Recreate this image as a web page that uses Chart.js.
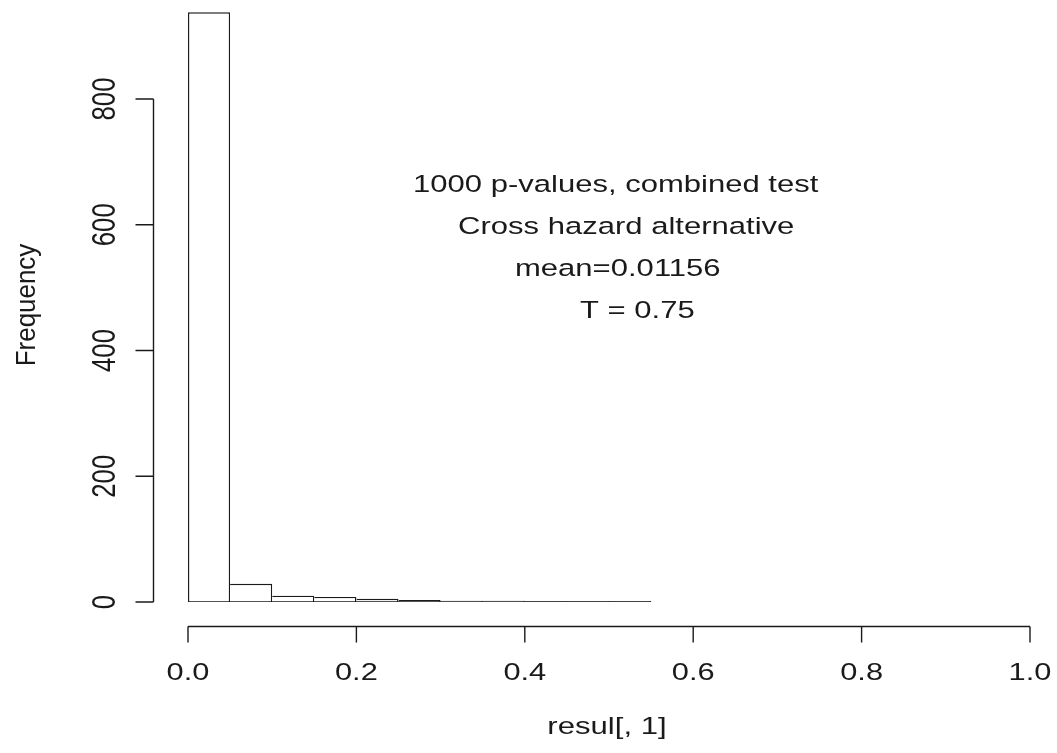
<!DOCTYPE html>
<html><head><meta charset="utf-8">
<script src="https://cdn.jsdelivr.net/npm/chart.js@4.4.0/dist/chart.umd.min.js"></script>
<style>html,body{margin:0;padding:0;background:#fff}canvas{display:block}</style>
</head><body>
<canvas id="c" width="1057" height="753"></canvas>
<script>
// Histogram data (bins of width 0.05, 0.00 - 0.55)
const binStarts = [0.00,0.05,0.10,0.15,0.20,0.25,0.30,0.35,0.40,0.45,0.50];
const binWidth = 0.05;
const counts = [938,29,10,8,5,3,2,2,1,1,1];
const xTicks = [0.0,0.2,0.4,0.6,0.8,1.0];
const xTickLabels = ["0.0","0.2","0.4","0.6","0.8","1.0"];
const yTicks = [0,200,400,600,800];
const yTickLabels = ["0","200","400","600","800"];
const annotations = ["1000 p-values, combined test","Cross hazard alternative","mean=0.01156","T = 0.75"];
const xTitle = "resul[, 1]";
const yTitle = "Frequency";

const barData = binStarts.map((s,i)=>({x:s+binWidth/2, y:counts[i]}));
const baseData = [{x:binStarts[0],y:0},{x:binStarts[binStarts.length-1]+binWidth,y:0}];

const INK = '#1a1a1a';
const LW = 1.4;
const FONT = '"Liberation Sans", Arial, sans-serif';

function txt(ctx, s, x, y, fs, sx, align, rot){
  ctx.save();
  ctx.font = fs + 'px ' + FONT;
  ctx.fillStyle = INK;
  ctx.translate(x, y);
  if (rot) ctx.rotate(-Math.PI/2);
  ctx.scale(sx, 1);
  ctx.textAlign = align;
  ctx.textBaseline = 'alphabetic';
  ctx.fillText(s, 0, 0);
  ctx.restore();
}

const axesPlugin = {
  id: 'rAxes',
  afterDraw(chart){
    const ctx = chart.ctx, xs = chart.scales.x, ys = chart.scales.y;
    ctx.save();
    ctx.strokeStyle = INK; ctx.lineWidth = LW;
    // x axis
    const xa = 626.5;
    ctx.beginPath();
    ctx.moveTo(xs.getPixelForValue(xTicks[0]), xa);
    ctx.lineTo(xs.getPixelForValue(xTicks[xTicks.length-1]), xa);
    xTicks.forEach(t=>{ const px = xs.getPixelForValue(t); ctx.moveTo(px, xa); ctx.lineTo(px, xa+16); });
    ctx.stroke();
    // y axis
    const yaX = 153.5;
    ctx.beginPath();
    ctx.moveTo(yaX, ys.getPixelForValue(yTicks[0]));
    ctx.lineTo(yaX, ys.getPixelForValue(yTicks[yTicks.length-1]));
    yTicks.forEach(t=>{ const py = ys.getPixelForValue(t); ctx.moveTo(yaX, py); ctx.lineTo(yaX-18, py); });
    ctx.stroke();
    ctx.restore();
    // tick labels
    xTicks.forEach((t,i)=> txt(ctx, xTickLabels[i], xs.getPixelForValue(t), 680, 23.7, 1.3, 'center', false));
    yTicks.forEach((t,i)=> txt(ctx, yTickLabels[i], 115, ys.getPixelForValue(t), 34, 0.76, 'center', true));
    // axis titles
    txt(ctx, xTitle, 607, 734, 24.5, 1.27, 'center', false);
    txt(ctx, yTitle, 35, 305, 27, 0.96, 'center', true);
    // annotations
    const ax = [413, 458, 515, 580];
    const ay = [192, 234, 276, 318];
    annotations.forEach((s,i)=> txt(ctx, s, ax[i], ay[i], 23.7, 1.31, 'left', false));
  }
};

new Chart(document.getElementById('c'), {
  data: {
    datasets: [
      { type:'bar', data: barData, backgroundColor:'#ffffff', borderColor: INK,
        borderWidth: (c)=>{
          const i = c.dataIndex; if (i === undefined) return LW;
          const left = (i===0 || counts[i] > counts[i-1]) ? LW : 0;
          const right = (i===counts.length-1 || counts[i] >= counts[i+1]) ? LW : 0;
          return {left:left, top:LW, right:right, bottom:0};
        },
        borderSkipped:false,
        barPercentage:1, categoryPercentage:1, inflateAmount:0, order:2 },
      { type:'line', data: baseData, borderColor: INK, borderWidth:LW, pointRadius:0, fill:false, order:1 }
    ]
  },
  options: {
    responsive:false, animation:false,
    layout:{ padding:{ left:188, right:27, top:4.7, bottom:151 } },
    plugins:{ legend:{display:false}, tooltip:{enabled:false}, title:{display:false} },
    scales:{
      x:{ type:'linear', min:0, max:1, display:false, offset:false },
      y:{ type:'linear', min:0, max:950, display:false }
    }
  },
  plugins:[axesPlugin]
});
</script>
</body></html>
